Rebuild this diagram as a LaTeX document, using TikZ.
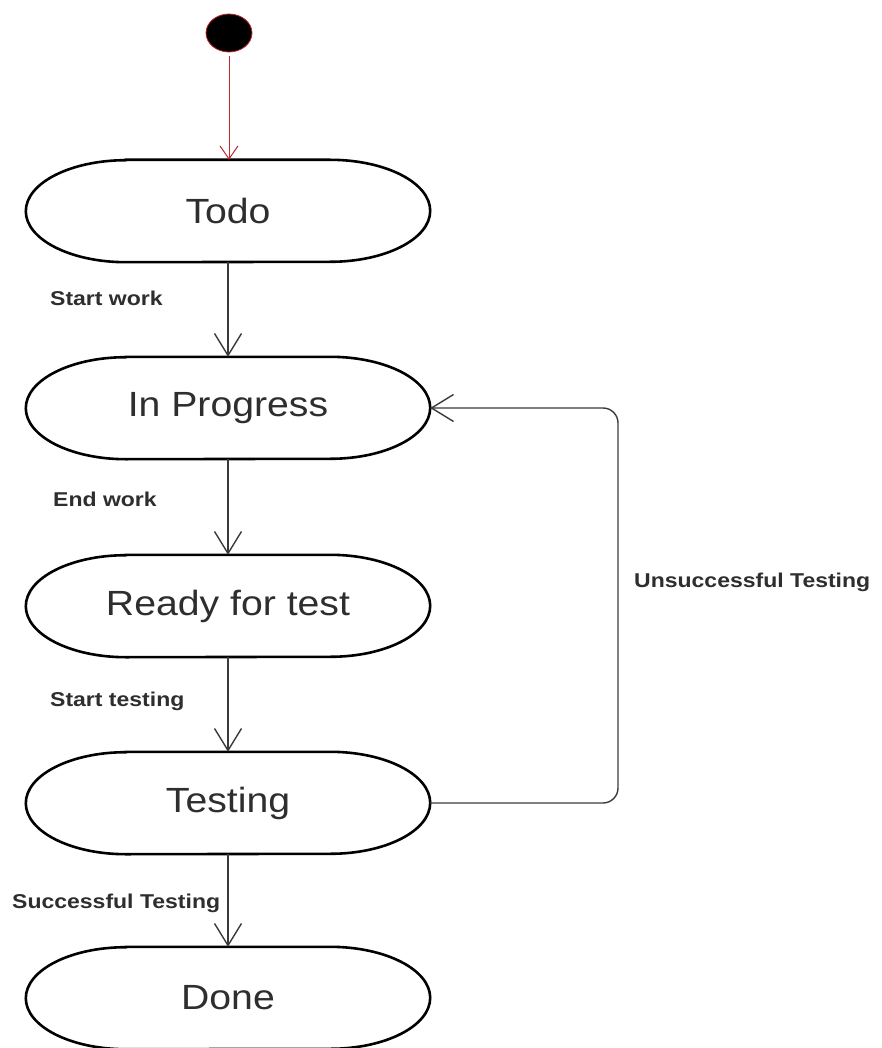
\documentclass[tikz,border=0pt]{standalone}
\usepackage{fontspec}
\setmainfont{Liberation Sans}
\newfontfamily\statefont[FakeStretch=1.12]{Liberation Sans}
\newfontfamily\labelfont[FakeStretch=1.15]{Liberation Sans}
\usetikzlibrary{arrows.meta,shapes.geometric}
\definecolor{edgegray}{HTML}{3A3A3A}
\definecolor{textgray}{HTML}{2E2E2E}
\definecolor{startred}{HTML}{C0262C}
\tikzset{
  statebox/.style={minimum width=404pt, minimum height=102pt, inner sep=0pt,
    font=\statefont\fontsize{35}{40}\selectfont, text=textgray},
  stateline/.style={line width=2.6pt, black},
  initstate/.style={ellipse, minimum width=46pt, minimum height=38pt, inner sep=0pt,
    fill=black, draw=startred, line width=0.8pt},
  flow/.style={line width=1.4pt, draw=edgegray,
    -{Straight Barb[length=22pt,width=27pt,line width=1.4pt]}},
  initflow/.style={line width=1pt, draw=startred,
    -{Straight Barb[length=13pt,width=18pt,line width=1pt]}},
  translabel/.style={anchor=west, inner sep=0pt,
    font=\labelfont\bfseries\fontsize{20}{24}\selectfont, text=textgray},
}
% rounded state outline with elliptical ends
\newcommand{\stateoutline}[1]{%
  \draw[stateline] ([xshift=100pt]#1.north west) -- ([xshift=-100pt]#1.north east)
    arc[start angle=90, end angle=-90, x radius=100pt, y radius=51pt]
    -- ([xshift=100pt]#1.south west)
    arc[start angle=270, end angle=90, x radius=100pt, y radius=51pt] -- cycle;}
\begin{document}
\begin{tikzpicture}[x=1pt, y=-1pt]
\useasboundingbox (0,0) rectangle (882,1048);

% initial pseudo-state
\node[initstate] (init) at (229,33) {};

% states
\node[statebox] (todo)  at (228,211) {Todo};
\node[statebox] (prog)  at (228,408) {In Progress};
\node[statebox] (ready) at (228,606) {Ready for test};
\node[statebox] (test)  at (228,803) {Testing};
\node[statebox] (done)  at (228,998) {Done};
\foreach \s in {todo,prog,ready,test,done} {\stateoutline{\s}}

% transitions
\draw[initflow] ([yshift=-4pt]init.south) -- (todo.north -| init.south);
\draw[flow] (todo.south) -- (prog.north);
\draw[flow] (prog.south) -- (ready.north);
\draw[flow] (ready.south) -- (test.north);
\draw[flow] (test.south) -- (done.north);
\draw[flow, rounded corners=15pt] (test.east) -- (618,803) -- (618,408) -- (prog.east);

% transition labels
\node[translabel] (lstart) at (50,298) {Start work};
\node[translabel] (lend)   at (53,499) {End work};
\node[translabel] (ltest)  at (50,701) {Start testing};
\node[translabel] (lsucc)  at (12,903) {Successful Testing};
\node[translabel] (lfail)  at (634,582) {Unsuccessful Testing};
\end{tikzpicture}
\end{document}
